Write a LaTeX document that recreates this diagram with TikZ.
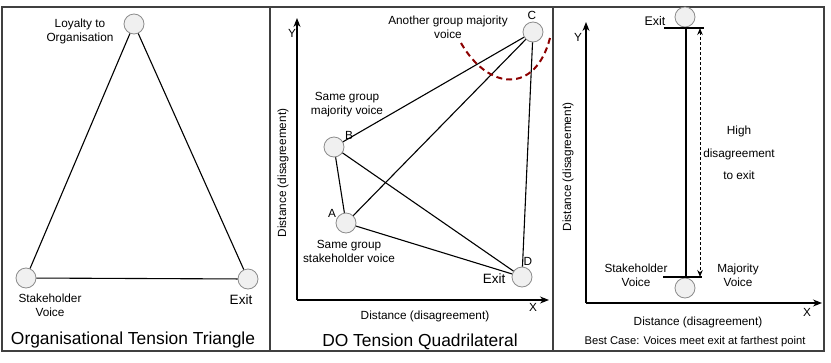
\documentclass[tikz,border=0pt]{standalone}
\usepackage{fontspec}
\setmainfont{Liberation Sans}
\usetikzlibrary{arrows.meta,positioning}

\begin{document}
\begin{tikzpicture}[x=1pt, y=-1pt, node distance=2pt, every node/.style={font=\fontsize{11.8}{14}\selectfont, align=center, inner sep=0pt}, pt/.style={circle, draw=black!45, fill=black!6, minimum size=20pt, line width=0.8pt}, panel/.style={draw=black!75, line width=1.2pt}, edge/.style={line width=1.1pt}, axis/.style={line width=1.1pt, -{Stealth[length=9pt,width=7pt]}}, big/.style={font=\fontsize{17.4}{20}\selectfont}, exitlbl/.style={font=\fontsize{13.5}{15}\selectfont}, redline/.style={draw=red!55!black, line width=2pt, dash pattern=on 6pt off 4pt}, >=Stealth]
\useasboundingbox (0,0) rectangle (831,362);
\draw[panel] (2,7) rectangle (270,351);
\draw[panel] (270,7) rectangle (553,351);
\draw[panel] (553,7) rectangle (824,351);

\node[pt] (loyal) at (134,24) {};
\node[pt] (voice) at (26,278) {};
\node[pt] (exitl) at (248,279) {};
\draw[edge] (loyal) -- (voice);
\draw[edge] (voice) -- (exitl);
\draw[edge] (exitl) -- (loyal);
\node (loyaltxt) at (80,31) {Loyalty to\\Organisation};
\node (voicetxt) at (50,305) {Stakeholder\\Voice};
\node[exitlbl] (exitltxt) at (241,300) {Exit};
\node[big] (title1) at (133,340) {Organisational Tension Triangle};

\coordinate (orig2) at (297,300);
\coordinate (ytip2) at (297,18);
\coordinate (xtip2) at (549,300);
\draw[axis] (orig2) -- (ytip2);
\draw[axis] (orig2) -- (xtip2);
\node (ylbl2) at (292,33) {Y};
\node (xlbl2) at (533,307) {X};
\node[rotate=90] (ydist2) at (283,173) {Distance (disagreement)};
\node (xdist2) at (425,316) {Distance (disagreement)};
\node[big] (title2) at (420,342) {DO Tension Quadrilateral};
\node[pt] (B) at (334,147) {};
\node[pt] (A) at (346,223) {};
\node[pt] (D) at (522,277) {};
\node[pt] (C) at (533,32) {};
\draw[edge] (A) -- (B);
\draw[edge] (A) -- (C);
\draw[edge] (A) -- (D);
\draw[edge] (B) -- (C);
\draw[edge] (B) -- (D);
\draw[edge] (C) -- (D);
\node (Clbl) at (532,15) {C};
\node (Blbl) at (349,135) {B};
\node (Albl) at (332,213) {A};
\node (Dlbl) at (528,261) {D};
\node[exitlbl] (exitmtxt) at (494,279) {Exit};
\node (Ctxt) at (448,27) {Another group majority\\voice};
\node (Btxt) at (347,105) {Same group\\majority voice};
\node (Atxt) at (349,251) {Same group\\stakeholder voice};
\draw[redline] (461,43) .. controls (488,90) and (535,95) .. (550,38);

\coordinate (orig3) at (586,303);
\coordinate (ytip3) at (586,22);
\coordinate (xtip3) at (822,303);
\draw[axis] (orig3) -- (ytip3);
\draw[axis] (orig3) -- (xtip3);
\node (ylbl3) at (578,37) {Y};
\node (xlbl3) at (807,312) {X};
\node[rotate=90] (ydist3) at (568,167) {Distance (disagreement)};
\node (xdist3) at (698,322) {Distance (disagreement)};
\node[font=\fontsize{11.2}{13}\selectfont] (title3) at (695,342) {Best Case: Voices meet exit at farthest point};
\node[pt] (exitr) at (685,17) {};
\node[pt] (meet) at (685,288) {};
\coordinate (topl) at (664,28);
\coordinate (topr) at (704,28);
\coordinate (botl) at (663,277);
\coordinate (botr) at (702,277);
\coordinate (stemtop) at (686,28);
\coordinate (stembot) at (686,277);
\coordinate (gaptop) at (700,28);
\coordinate (gapbot) at (700,277);
\draw[edge] (topl) -- (topr);
\draw[edge] (botl) -- (botr);
\draw[edge] (stemtop) -- (stembot);
\draw[line width=1pt, dash pattern=on 3pt off 2pt, {Stealth[length=7pt,width=5.5pt]}-{Stealth[length=7pt,width=5.5pt]}] (gaptop) -- (gapbot);
\node[font=\fontsize{12.5}{15}\selectfont] (exitrtxt) at (655,21) {Exit};
\node[font=\fontsize{11.8}{22.5}\selectfont] (gaptxt) at (739,153) {High\\disagreement\\to exit};
\node (stktxt) at (636,275) {Stakeholder\\Voice};
\node (majtxt) at (738,275) {Majority\\Voice};
\end{tikzpicture}
\end{document}
